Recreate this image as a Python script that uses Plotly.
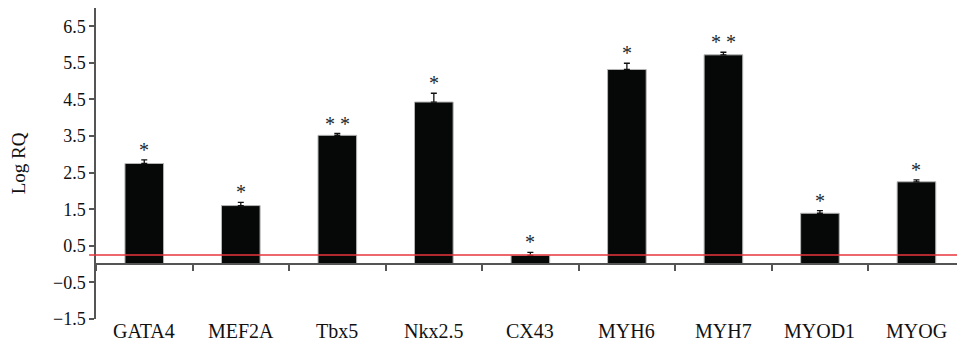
import plotly.graph_objects as go

genes = ["GATA4", "MEF2A", "Tbx5", "Nkx2.5", "CX43", "MYH6", "MYH7", "MYOD1", "MYOG"]
log_rq = [2.75, 1.60, 3.52, 4.43, 0.24, 5.32, 5.72, 1.39, 2.25]
err_up = [0.10, 0.09, 0.05, 0.24, 0.08, 0.17, 0.07, 0.07, 0.05]
signif = ["*", "*", "* *", "*", "*", "*", "* *", "*", "*"]
threshold = 0.25
y_ticks = [6.5, 5.5, 4.5, 3.5, 2.5, 1.5, 0.5, -0.5, -1.5]
y_range = [-1.5, 7.0]

SERIF = "Liberation Serif, Times New Roman, serif"
AXIS_COL = "#555555"

fig = go.Figure()
fig.add_trace(go.Bar(
    x=genes, y=log_rq,
    width=0.4,
    marker=dict(color="#060808", line=dict(color="#b5b5b5", width=1)),
    error_y=dict(type="data", array=err_up, arrayminus=[0] * len(err_up),
                 symmetric=False, color="#111111", thickness=1.3, width=3),
    showlegend=False,
))

# significance asterisks
for g, v, e, s in zip(genes, log_rq, err_up, signif):
    fig.add_annotation(x=g, y=v + e, xref="x", yref="y", text=s, showarrow=False,
                       yanchor="bottom", yshift=-3,
                       font=dict(family=SERIF, size=20, color="#1a1f2e"))

# category labels at the bottom
for g in genes:
    fig.add_annotation(x=g, y=0, xref="x", yref="paper", text=g, showarrow=False,
                       yanchor="top", yshift=1,
                       font=dict(family=SERIF, size=20, color="#111111"))

fig.add_hline(y=threshold, x0=-0.008, line=dict(color="#e8343c", width=1.5), layer="above")

zero_pos = (0 - y_range[0]) / (y_range[1] - y_range[0])

fig.update_layout(
    width=957, height=343,
    margin=dict(l=96, r=0, t=8, b=24),
    paper_bgcolor="white", plot_bgcolor="white",
    bargap=0.6,
    xaxis=dict(
        type="category", range=[-0.5, 8.42],
        anchor="free", position=zero_pos,
        showline=True, linecolor=AXIS_COL, linewidth=1.5,
        ticks="outside", tickson="boundaries", ticklen=6, tickcolor=AXIS_COL, tickwidth=1.5,
        showticklabels=False, showgrid=False, zeroline=False,
    ),
    yaxis=dict(
        range=y_range, tickmode="array", tickvals=y_ticks,
        ticktext=[f"{t:.1f}".replace("-", "\u2212") for t in y_ticks],
        showline=True, linecolor=AXIS_COL, linewidth=1.5,
        ticks="outside", ticklen=5, tickcolor=AXIS_COL, tickwidth=1.5,
        showgrid=False, zeroline=False,
        tickfont=dict(family=SERIF, size=18, color="#111111"),
        title=dict(text="Log RQ", font=dict(family=SERIF, size=19, color="#111111"), standoff=22),
    ),
)

fig.write_html("out.html")
